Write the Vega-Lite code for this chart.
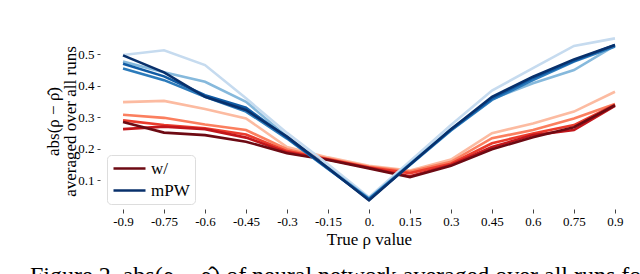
{
  "$schema": "https://vega.github.io/schema/vega-lite/v6.json",
  "width": 522,
  "height": 170,
  "autosize": {"type": "none"},
  "padding": {"left": 108, "top": 36, "right": 10, "bottom": 68},
  "background": "white",
  "config": {
    "view": {"stroke": null},
    "font": "Liberation Serif",
    "axis": {"domain": false, "grid": false, "tickColor": "#444", "tickWidth": 1, "labelColor": "#000", "titleColor": "#000", "labelFont": "Liberation Serif", "titleFont": "Liberation Serif", "titleFontWeight": "normal"}
  },
  "title": {
    "text": "Figure 2. abs(ρ − ρ̂) of neural network averaged over all runs for",
    "orient": "bottom",
    "anchor": "start",
    "frame": "group",
    "dx": -78,
    "offset": 17,
    "baseline": "top",
    "font": "Liberation Serif",
    "fontSize": 24,
    "fontWeight": "normal",
    "color": "#000"
  },
  "data": {
    "values": [
      {"s": "w/ 1", "x": -0.9, "y": 0.348}, {"s": "w/ 1", "x": -0.75, "y": 0.352}, {"s": "w/ 1", "x": -0.6, "y": 0.326}, {"s": "w/ 1", "x": -0.45, "y": 0.296}, {"s": "w/ 1", "x": -0.3, "y": 0.205}, {"s": "w/ 1", "x": -0.15, "y": 0.172}, {"s": "w/ 1", "x": 0, "y": 0.145}, {"s": "w/ 1", "x": 0.15, "y": 0.13}, {"s": "w/ 1", "x": 0.3, "y": 0.165}, {"s": "w/ 1", "x": 0.45, "y": 0.249}, {"s": "w/ 1", "x": 0.6, "y": 0.28}, {"s": "w/ 1", "x": 0.75, "y": 0.318}, {"s": "w/ 1", "x": 0.9, "y": 0.381},
      {"s": "w/ 2", "x": -0.9, "y": 0.308}, {"s": "w/ 2", "x": -0.75, "y": 0.298}, {"s": "w/ 2", "x": -0.6, "y": 0.277}, {"s": "w/ 2", "x": -0.45, "y": 0.259}, {"s": "w/ 2", "x": -0.3, "y": 0.198}, {"s": "w/ 2", "x": -0.15, "y": 0.168}, {"s": "w/ 2", "x": 0, "y": 0.142}, {"s": "w/ 2", "x": 0.15, "y": 0.127}, {"s": "w/ 2", "x": 0.3, "y": 0.158}, {"s": "w/ 2", "x": 0.45, "y": 0.233}, {"s": "w/ 2", "x": 0.6, "y": 0.259}, {"s": "w/ 2", "x": 0.75, "y": 0.296}, {"s": "w/ 2", "x": 0.9, "y": 0.342},
      {"s": "w/ 3", "x": -0.9, "y": 0.29}, {"s": "w/ 3", "x": -0.75, "y": 0.275}, {"s": "w/ 3", "x": -0.6, "y": 0.265}, {"s": "w/ 3", "x": -0.45, "y": 0.245}, {"s": "w/ 3", "x": -0.3, "y": 0.192}, {"s": "w/ 3", "x": -0.15, "y": 0.166}, {"s": "w/ 3", "x": 0, "y": 0.14}, {"s": "w/ 3", "x": 0.15, "y": 0.122}, {"s": "w/ 3", "x": 0.3, "y": 0.152}, {"s": "w/ 3", "x": 0.45, "y": 0.217}, {"s": "w/ 3", "x": 0.6, "y": 0.248}, {"s": "w/ 3", "x": 0.75, "y": 0.275}, {"s": "w/ 3", "x": 0.9, "y": 0.34},
      {"s": "w/ 4", "x": -0.9, "y": 0.262}, {"s": "w/ 4", "x": -0.75, "y": 0.27}, {"s": "w/ 4", "x": -0.6, "y": 0.262}, {"s": "w/ 4", "x": -0.45, "y": 0.235}, {"s": "w/ 4", "x": -0.3, "y": 0.188}, {"s": "w/ 4", "x": -0.15, "y": 0.165}, {"s": "w/ 4", "x": 0, "y": 0.139}, {"s": "w/ 4", "x": 0.15, "y": 0.112}, {"s": "w/ 4", "x": 0.3, "y": 0.148}, {"s": "w/ 4", "x": 0.45, "y": 0.205}, {"s": "w/ 4", "x": 0.6, "y": 0.243}, {"s": "w/ 4", "x": 0.75, "y": 0.259}, {"s": "w/ 4", "x": 0.9, "y": 0.336},
      {"s": "w/", "x": -0.9, "y": 0.285}, {"s": "w/", "x": -0.75, "y": 0.251}, {"s": "w/", "x": -0.6, "y": 0.243}, {"s": "w/", "x": -0.45, "y": 0.222}, {"s": "w/", "x": -0.3, "y": 0.185}, {"s": "w/", "x": -0.15, "y": 0.164}, {"s": "w/", "x": 0, "y": 0.137}, {"s": "w/", "x": 0.15, "y": 0.109}, {"s": "w/", "x": 0.3, "y": 0.145}, {"s": "w/", "x": 0.45, "y": 0.198}, {"s": "w/", "x": 0.6, "y": 0.236}, {"s": "w/", "x": 0.75, "y": 0.268}, {"s": "w/", "x": 0.9, "y": 0.338},
      {"s": "mPW 1", "x": -0.9, "y": 0.498}, {"s": "mPW 1", "x": -0.75, "y": 0.513}, {"s": "mPW 1", "x": -0.6, "y": 0.466}, {"s": "mPW 1", "x": -0.45, "y": 0.36}, {"s": "mPW 1", "x": -0.3, "y": 0.25}, {"s": "mPW 1", "x": -0.15, "y": 0.15}, {"s": "mPW 1", "x": 0, "y": 0.045}, {"s": "mPW 1", "x": 0.15, "y": 0.16}, {"s": "mPW 1", "x": 0.3, "y": 0.275}, {"s": "mPW 1", "x": 0.45, "y": 0.385}, {"s": "mPW 1", "x": 0.6, "y": 0.456}, {"s": "mPW 1", "x": 0.75, "y": 0.527}, {"s": "mPW 1", "x": 0.9, "y": 0.551},
      {"s": "mPW 2", "x": -0.9, "y": 0.477}, {"s": "mPW 2", "x": -0.75, "y": 0.443}, {"s": "mPW 2", "x": -0.6, "y": 0.413}, {"s": "mPW 2", "x": -0.45, "y": 0.349}, {"s": "mPW 2", "x": -0.3, "y": 0.238}, {"s": "mPW 2", "x": -0.15, "y": 0.14}, {"s": "mPW 2", "x": 0, "y": 0.042}, {"s": "mPW 2", "x": 0.15, "y": 0.152}, {"s": "mPW 2", "x": 0.3, "y": 0.262}, {"s": "mPW 2", "x": 0.45, "y": 0.358}, {"s": "mPW 2", "x": 0.6, "y": 0.408}, {"s": "mPW 2", "x": 0.75, "y": 0.45}, {"s": "mPW 2", "x": 0.9, "y": 0.528},
      {"s": "mPW 3", "x": -0.9, "y": 0.455}, {"s": "mPW 3", "x": -0.75, "y": 0.418}, {"s": "mPW 3", "x": -0.6, "y": 0.365}, {"s": "mPW 3", "x": -0.45, "y": 0.318}, {"s": "mPW 3", "x": -0.3, "y": 0.232}, {"s": "mPW 3", "x": -0.15, "y": 0.135}, {"s": "mPW 3", "x": 0, "y": 0.04}, {"s": "mPW 3", "x": 0.15, "y": 0.148}, {"s": "mPW 3", "x": 0.3, "y": 0.258}, {"s": "mPW 3", "x": 0.45, "y": 0.355}, {"s": "mPW 3", "x": 0.6, "y": 0.418}, {"s": "mPW 3", "x": 0.75, "y": 0.477}, {"s": "mPW 3", "x": 0.9, "y": 0.525},
      {"s": "mPW 4", "x": -0.9, "y": 0.47}, {"s": "mPW 4", "x": -0.75, "y": 0.43}, {"s": "mPW 4", "x": -0.6, "y": 0.37}, {"s": "mPW 4", "x": -0.45, "y": 0.33}, {"s": "mPW 4", "x": -0.3, "y": 0.235}, {"s": "mPW 4", "x": -0.15, "y": 0.137}, {"s": "mPW 4", "x": 0, "y": 0.038}, {"s": "mPW 4", "x": 0.15, "y": 0.15}, {"s": "mPW 4", "x": 0.3, "y": 0.26}, {"s": "mPW 4", "x": 0.45, "y": 0.36}, {"s": "mPW 4", "x": 0.6, "y": 0.425}, {"s": "mPW 4", "x": 0.75, "y": 0.48}, {"s": "mPW 4", "x": 0.9, "y": 0.53},
      {"s": "mPW", "x": -0.9, "y": 0.497}, {"s": "mPW", "x": -0.75, "y": 0.443}, {"s": "mPW", "x": -0.6, "y": 0.365}, {"s": "mPW", "x": -0.45, "y": 0.323}, {"s": "mPW", "x": -0.3, "y": 0.238}, {"s": "mPW", "x": -0.15, "y": 0.138}, {"s": "mPW", "x": 0, "y": 0.035}, {"s": "mPW", "x": 0.15, "y": 0.149}, {"s": "mPW", "x": 0.3, "y": 0.262}, {"s": "mPW", "x": 0.45, "y": 0.365}, {"s": "mPW", "x": 0.6, "y": 0.429}, {"s": "mPW", "x": 0.75, "y": 0.484}, {"s": "mPW", "x": 0.9, "y": 0.53}
    ]
  },
  "mark": {"type": "line", "strokeWidth": 2.6, "clip": false},
  "encoding": {
    "x": {
      "field": "x", "type": "quantitative",
      "scale": {"domain": [-0.955, 0.955], "nice": false, "zero": false},
      "axis": {
        "values": [-0.9, -0.75, -0.6, -0.45, -0.3, -0.15, 0, 0.15, 0.3, 0.45, 0.6, 0.75, 0.9],
        "labelExpr": "datum.value == 0 ? '0.' : '' + datum.value",
        "offset": 3, "tickSize": 4, "labelPadding": 2, "labelFont": "Liberation Serif", "labelFontSize": 13,
        "title": "True ρ value", "titleFontSize": 17, "titlePadding": 3
      }
    },
    "y": {
      "field": "y", "type": "quantitative",
      "scale": {"domain": [0.0172, 0.5586], "nice": false, "zero": false},
      "axis": {
        "values": [0.1, 0.2, 0.3, 0.4, 0.5], "format": ".1f",
        "offset": 8, "tickSize": 3, "labelPadding": 3, "labelFont": "Liberation Serif", "labelFontSize": 13,
        "title": ["abs(ρ − ρ̂)", "averaged over all runs"], "titleFontSize": 17, "titleLineHeight": 17,
        "titleAngle": -90, "titleAlign": "center", "titleBaseline": "bottom", "titleX": -38, "titleY": 85
      }
    },
    "color": {
      "field": "s", "type": "nominal",
      "scale": {
        "domain": ["w/ 1", "w/ 2", "w/ 3", "w/ 4", "w/", "mPW 1", "mPW 2", "mPW 3", "mPW 4", "mPW"],
        "range": ["#fcbba1", "#fb7f5f", "#ea3b2c", "#c2161b", "#6d0a13", "#c6dbef", "#86b9dc", "#2c7bbb", "#105ba4", "#08306b"]
      },
      "legend": {
        "values": ["w/", "mPW"],
        "orient": "none", "legendX": -1, "legendY": 119,
        "title": null, "symbolType": "M-3.2,0H3.2", "symbolSize": 100, "symbolStrokeWidth": 2.6,
        "symbolOffset": 9,
        "labelFont": "Liberation Serif", "labelFontSize": 17, "labelColor": "#000",
        "rowPadding": 4, "labelOffset": 13,
        "padding": 5, "strokeColor": "#dddddd", "cornerRadius": 4, "fillColor": "white"
      }
    }
  }
}
